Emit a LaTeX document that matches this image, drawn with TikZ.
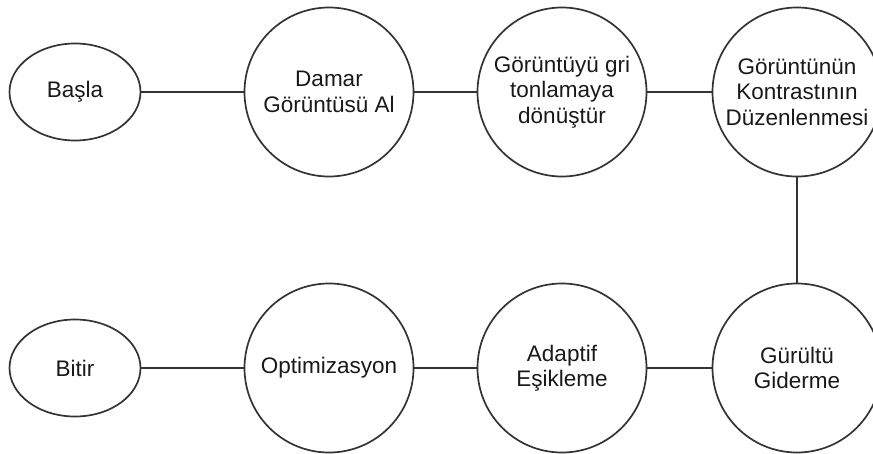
\documentclass[tikz,border=0pt]{standalone}
\usepackage{fontspec}
\setmainfont{Liberation Sans}
\usetikzlibrary{shapes.geometric}
\begin{document}
\begin{tikzpicture}[x=1pt,y=-1pt,
  every node/.style={font=\fontsize{22.5}{25.5}\selectfont, text=black!90},
  stepcircle/.style={circle, draw=black!80, line width=1.7pt, minimum size=169pt, inner sep=0pt, align=center},
  terminal/.style={ellipse, draw=black!80, line width=1.7pt, minimum width=131pt, minimum height=97pt, inner sep=0pt},
  link/.style={draw=black!80, line width=1.7pt}]
\useasboundingbox (0,0) rectangle (873,453);
\node[terminal] (basla) at (75,92) {Başla};
\node[stepcircle] (damar) at (329,92) {Damar\\Görüntüsü Al};
\node[stepcircle] (gri) at (562,92) {Görüntüyü gri\\tonlamaya\\dönüştür};
\node[stepcircle] (kontrast) at (797,92) {Görüntünün\\Kontrastının\\Düzenlenmesi};
\node[stepcircle] (gurultu) at (797,368) {Gürültü\\Giderme};
\node[stepcircle] (adaptif) at (562,368) {Adaptif\\Eşikleme};
\node[stepcircle] (optim) at (329,368) {Optimizasyon};
\node[terminal] (bitir) at (75,368) {Bitir};
\draw[link] (basla) -- (damar);
\draw[link] (damar) -- (gri);
\draw[link] (gri) -- (kontrast);
\draw[link] (kontrast) -- (gurultu);
\draw[link] (gurultu) -- (adaptif);
\draw[link] (adaptif) -- (optim);
\draw[link] (optim) -- (bitir);
\end{tikzpicture}
\end{document}
